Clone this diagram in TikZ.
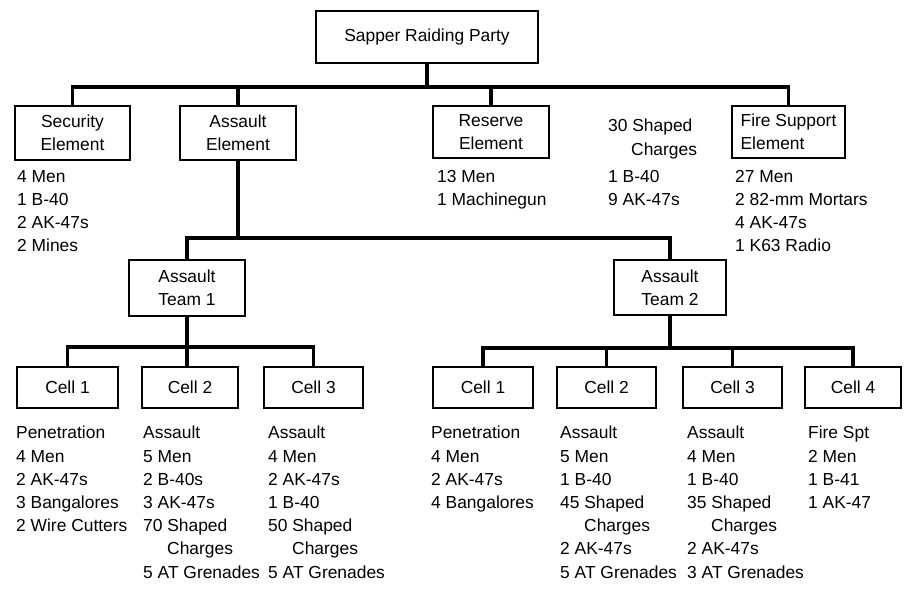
\documentclass[tikz,border=0pt]{standalone}
\usepackage{fontspec}
\setmainfont{Liberation Sans}
\newcommand\orgfs{\fontsize{17.4}{23.2}\selectfont}
\newcommand\ind{\hspace*{24pt}}
\begin{document}
\begin{tikzpicture}[x=1pt,y=-1pt,
  box/.style={draw, line width=1.8pt, inner sep=0pt, align=center, font=\orgfs},
  conn/.style={line width=3.6pt, line join=miter},
  lst/.style={anchor=north west, inner sep=0pt, align=left, font=\orgfs}]
\useasboundingbox (0,0) rectangle (908,607);
% boxes
\node[box, minimum width=222, minimum height=52] (top) at (427,37) {Sapper Raiding Party};
\node[box, minimum width=115, minimum height=54] (sec) at (72.5,133) {Security\\Element};
\node[box, minimum width=116, minimum height=54] (ase) at (238,133) {Assault\\Element};
\node[box, minimum width=116, minimum height=52] (res) at (491,132) {Reserve\\Element};
\node[box, minimum width=113, minimum height=52, align=left] (fse) at (788.5,132) {Fire Support\\Element};
\node[box, minimum width=116, minimum height=56] (t1) at (187,288) {Assault\\Team 1};
\node[box, minimum width=112, minimum height=55] (t2) at (670,287.5) {Assault\\Team 2};
\node[box, minimum width=101, minimum height=41] (a1) at (67.5,387.5) {Cell 1};
\node[box, minimum width=96, minimum height=41] (a2) at (190,387.5) {Cell 2};
\node[box, minimum width=99, minimum height=41] (a3) at (313.5,387.5) {Cell 3};
\node[box, minimum width=100, minimum height=41] (b1) at (483,387.5) {Cell 1};
\node[box, minimum width=99, minimum height=41] (b2) at (606.5,387.5) {Cell 2};
\node[box, minimum width=99, minimum height=41] (b3) at (732.5,387.5) {Cell 3};
\node[box, minimum width=96, minimum height=41] (b4) at (853,387.5) {Cell 4};
% connectors
\draw[conn] (top.south) -- ++(0,23) coordinate (j0);
\draw[conn] (sec.north) |- (fse.north |- j0) -- (fse.north);
\draw[conn] (ase.north) -- (ase.north |- j0);
\draw[conn] (res.north) -- (res.north |- j0);
\draw[conn] (ase.south) -- ++(0,77) coordinate (j1);
\draw[conn] (t1.north) |- (t2.north |- j1) -- (t2.north);
\draw[conn] (t1.south) -- (t1.south |- a2.north);
\draw[conn] (a1.north) |- (a3.north |- {(0,347)}) -- (a3.north);
\draw[conn] (t2.south) -- ++(0,32) coordinate (j3);
\draw[conn] (b1.north) |- (b4.north |- j3) -- (b4.north);
\draw[conn] (b2.north) -- (b2.north |- j3);
\draw[conn] (b3.north) -- (b3.north |- j3);
% lists
\node[lst] (secL) at (17,170) {4 Men\\1 B-40\\2 AK-47s\\2 Mines};
\node[lst] (resL) at (437,170) {13 Men\\1 Machinegun};
\node[lst] (chgA) at (608,119) {30 Shaped\\\hspace*{23pt}Charges};
\node[lst] (chgB) at (608,170) {1 B-40\\9 AK-47s};
\node[lst] (fseL) at (735,170) {27 Men\\2 82-mm Mortars\\4 AK-47s\\1 K63 Radio};
\node[lst] (a1L) at (16,426) {Penetration\\4 Men\\2 AK-47s\\3 Bangalores\\2 Wire Cutters};
\node[lst] (a2L) at (143,426) {Assault\\5 Men\\2 B-40s\\3 AK-47s\\70 Shaped\\\ind Charges\\5 AT Grenades};
\node[lst] (a3L) at (268,426) {Assault\\4 Men\\2 AK-47s\\1 B-40\\50 Shaped\\\ind Charges\\5 AT Grenades};
\node[lst] (b1L) at (431,426) {Penetration\\4 Men\\2 AK-47s\\4 Bangalores};
\node[lst] (b2L) at (560,426) {Assault\\5 Men\\1 B-40\\45 Shaped\\\ind Charges\\2 AK-47s\\5 AT Grenades};
\node[lst] (b3L) at (687,426) {Assault\\4 Men\\1 B-40\\35 Shaped\\\ind Charges\\2 AK-47s\\3 AT Grenades};
\node[lst] (b4L) at (808,426) {Fire Spt\\2 Men\\1 B-41\\1 AK-47};
\end{tikzpicture}
\end{document}
